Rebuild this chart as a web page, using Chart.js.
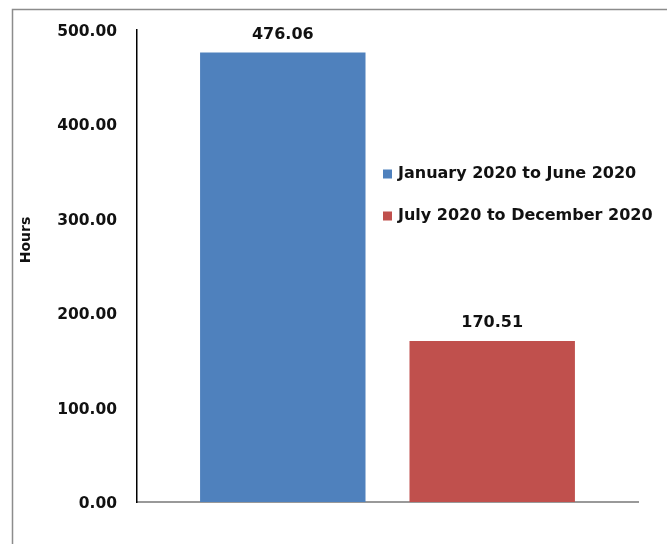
<!DOCTYPE html>
<html>
<head>
<meta charset="utf-8">
<script src="https://cdn.jsdelivr.net/npm/chart.js@4.4.1/dist/chart.umd.min.js"></script>
<style>
  html, body { margin: 0; padding: 0; background: #fff; }
  #wrap { width: 667px; height: 544px; position: relative; }
</style>
</head>
<body>
<div id="wrap"><canvas id="c" width="667" height="544"></canvas></div>
<script>
// Hours per half-year period
const categories = ['2020'];
const seriesLabels = ['January 2020 to June 2020', 'July 2020 to December 2020'];
const seriesValues = [[476.06], [170.51]];
const seriesColors = ['#4F81BD', '#C0504D'];
const yTicks = [0, 100, 200, 300, 400, 500];
const yTitle = 'Hours';

const FONT = '"DejaVu Sans", Verdana, sans-serif';

// Outer frame around the chart
const framePlugin = {
  id: 'frame',
  beforeDraw(chart) {
    const ctx = chart.ctx;
    ctx.save();
    ctx.strokeStyle = '#8c8c8c';
    ctx.lineWidth = 1.5;
    ctx.strokeRect(12.5, 9.5, 700, 600);
    ctx.restore();
  }
};

// Value labels above each bar
const valueLabels = {
  id: 'valueLabels',
  afterDatasetsDraw(chart) {
    const ctx = chart.ctx;
    ctx.save();
    ctx.font = 'bold 16px ' + FONT;
    ctx.fillStyle = '#111';
    ctx.textAlign = 'center';
    ctx.textBaseline = 'bottom';
    chart.data.datasets.forEach((ds, i) => {
      chart.getDatasetMeta(i).data.forEach((bar, j) => {
        ctx.fillText(ds.data[j].toFixed(2), bar.x, bar.y - 10);
      });
    });
    ctx.restore();
  }
};

// Legend drawn inside the plot area, right of the first bar
const innerLegend = {
  id: 'innerLegend',
  afterDraw(chart) {
    const ctx = chart.ctx;
    const x0 = chart.chartArea.left + 246;
    const y0 = chart.chartArea.top + 144;
    ctx.save();
    ctx.font = 'bold 16px ' + FONT;
    ctx.textBaseline = 'middle';
    chart.data.datasets.forEach((ds, i) => {
      const y = y0 + i * 42;
      ctx.fillStyle = ds.backgroundColor;
      ctx.fillRect(x0, y - 4.5, 9, 9);
      ctx.fillStyle = '#111';
      ctx.fillText(ds.label, x0 + 15, y);
    });
    ctx.restore();
  }
};

// Vertical axis title
const axisTitle = {
  id: 'axisTitle',
  afterDraw(chart) {
    const ctx = chart.ctx;
    const a = chart.chartArea;
    ctx.save();
    ctx.translate(26, a.top + (a.bottom - a.top) * 0.445);
    ctx.rotate(-Math.PI / 2);
    ctx.font = 'bold 14px ' + FONT;
    ctx.fillStyle = '#111';
    ctx.textAlign = 'center';
    ctx.textBaseline = 'middle';
    ctx.fillText(yTitle, 0, 0);
    ctx.restore();
  }
};

new Chart(document.getElementById('c'), {
  type: 'bar',
  data: {
    labels: categories,
    datasets: seriesLabels.map((label, i) => ({
      label,
      data: seriesValues[i],
      backgroundColor: seriesColors[i],
      borderWidth: 0,
      categoryPercentage: 0.836,
      barPercentage: 0.79
    }))
  },
  options: {
    responsive: false,
    animation: false,
    devicePixelRatio: 1,
    layout: { padding: { top: 30, right: 29, bottom: 42, left: 0 } },
    plugins: {
      legend: { display: false },
      tooltip: { enabled: false }
    },
    scales: {
      x: {
        grid: { display: false, drawTicks: false },
        border: { display: true, color: '#999', width: 2 },
        ticks: { display: false },
        afterFit(scale) { scale.height = 0; }
      },
      y: {
        min: 0,
        max: 500,
        afterBuildTicks(scale) { scale.ticks = yTicks.map(v => ({ value: v })); },
        grid: { display: false, drawTicks: false },
        border: { display: true, color: '#000', width: 1.5 },
        ticks: {
          padding: 20,
          labelOffset: 2,
          color: '#111',
          font: { family: FONT, size: 15.5, weight: 'bold' },
          callback: v => Number(v).toFixed(2)
        },
        afterFit(scale) { scale.width = 137; }
      }
    }
  },
  plugins: [framePlugin, valueLabels, innerLegend, axisTitle]
});
</script>
</body>
</html>
